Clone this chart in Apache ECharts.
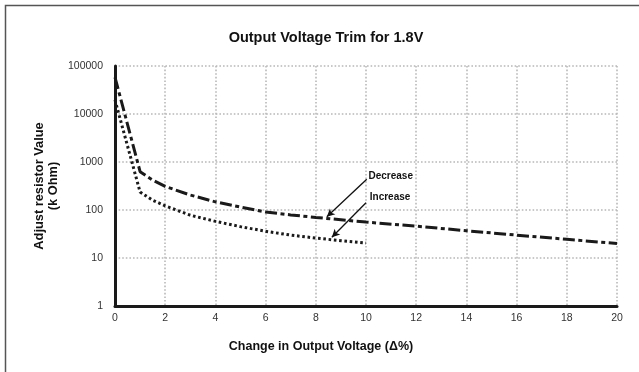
<!DOCTYPE html>
<html>
<head>
<meta charset="utf-8">
<title>Output Voltage Trim for 1.8V</title>
<script src="https://cdn.jsdelivr.net/npm/echarts@6/dist/echarts.min.js"></script>
<style>
  html, body { margin: 0; padding: 0; background: #fff; }
  #chart { width: 639px; height: 372px; }
</style>
</head>
<body>
<div id="chart"></div>
<script>
// Change in output voltage (%) and adjust-resistor values (k Ohm)
const decreaseX = [0, 1, 1.5, 2, 3, 4, 5, 6, 7, 8, 10, 12, 14, 16, 18, 20];
const decreaseR = [58000, 630, 420, 310, 205, 148, 115, 91, 79, 70, 56, 46, 37, 30, 24.5, 20];
const increaseX = [0, 1, 1.5, 2, 3, 4, 5, 6, 7, 8, 9, 10];
const increaseR = [19600, 236, 160, 122, 78, 58, 45, 36, 30, 26, 23, 20.5];

// Callout arrows: [tail, tip] in data coordinates, plus label anchors
const decreaseArrow = [[10.03, 437], [8.44, 72]];
const increaseArrow = [[10.0, 142], [8.64, 27]];
const decreaseLabelAt = [10.1, 494];
const increaseLabelAt = [10.15, 184];

const FONT = '"Liberation Sans", Arial, Helvetica, sans-serif';

const pairs = (xs, ys) => xs.map((x, i) => [x, ys[i]]);

const chart = echarts.init(document.getElementById('chart'), null, { renderer: 'canvas' });

const gridLine = { show: true, lineStyle: { color: '#b8b8b8', width: 1.6, type: [1.6, 2] } };
const arrowLine = (seg) => [{ coord: seg[0] }, { coord: seg[1] }];

chart.setOption({
  animation: false,
  backgroundColor: '#ffffff',
  title: {
    text: 'Output Voltage Trim for 1.8V',
    left: 321,
    top: 25,
    textAlign: 'center',
    textStyle: { fontFamily: FONT, fontSize: 14.5, fontWeight: 'bold', color: '#111' }
  },
  grid: { left: 115, right: 22, top: 66, bottom: 66, containLabel: false },
  xAxis: {
    type: 'value',
    min: 0, max: 20, interval: 2,
    name: 'Change in Output Voltage (\u0394%)',
    nameLocation: 'middle',
    nameGap: 34,
    nameMoveOverlap: false,
    nameTextStyle: { fontFamily: FONT, fontSize: 12.5, fontWeight: 'bold', color: '#111', padding: [0, 90, 0, 0] },
    axisLine: { show: true, onZero: false, lineStyle: { color: '#1a1a1a', width: 3 } },
    axisTick: { show: false },
    axisLabel: { margin: 7, fontFamily: FONT, fontSize: 10.5, color: '#333' },
    splitLine: gridLine
  },
  yAxis: {
    type: 'log',
    logBase: 10,
    min: 1, max: 100000,
    name: 'Adjust resistor Value\n(k Ohm)',
    nameLocation: 'middle',
    nameGap: 54,
    nameMoveOverlap: false,
    nameTextStyle: { fontFamily: FONT, fontSize: 12.8, fontWeight: 'bold', color: '#111', lineHeight: 14.5, align: 'center' },
    axisLine: { show: true, lineStyle: { color: '#1a1a1a', width: 3 } },
    axisTick: { show: false },
    axisLabel: { margin: 12, fontFamily: FONT, fontSize: 10.5, color: '#333',
      formatter: (v) => String(Math.round(v)) },
    splitLine: gridLine,
    minorSplitLine: { show: false }
  },
  series: [
    {
      name: 'Decrease',
      type: 'line',
      data: pairs(decreaseX, decreaseR),
      showSymbol: false,
      symbol: 'none',
      smooth: false,
      lineStyle: { color: '#1a1a1a', width: 3, type: [12, 3.5, 4, 3.5], cap: 'butt' },
      z: 3,
      markLine: {
        silent: true,
        symbol: ['none', 'arrow'],
        symbolSize: [6, 8],
        label: { show: false },
        lineStyle: { color: '#111', width: 1.3, type: 'solid' },
        data: [arrowLine(decreaseArrow), arrowLine(increaseArrow)]
      }
    },
    {
      name: 'Increase',
      type: 'line',
      data: pairs(increaseX, increaseR),
      showSymbol: false,
      symbol: 'none',
      smooth: false,
      lineStyle: { color: '#1a1a1a', width: 3, type: [2.6, 2.7], cap: 'butt' },
      z: 3
    }
  ]
});

// Series captions next to the callout arrows, plus the outer frame
const dp = chart.convertToPixel({ gridIndex: 0 }, decreaseLabelAt);
const ip = chart.convertToPixel({ gridIndex: 0 }, increaseLabelAt);
const captionStyle = (txt) => ({ text: txt, fontFamily: FONT, fontSize: 10, fontWeight: 'bold', fill: '#111', textVerticalAlign: 'middle', textAlign: 'left' });

chart.setOption({
  graphic: [
    { type: 'rect', silent: true, z: 0,
      shape: { x: 5.5, y: 5.5, width: 660, height: 400 },
      style: { fill: 'none', stroke: '#555', lineWidth: 1.5 } },
    { type: 'text', x: dp[0], y: dp[1], style: captionStyle('Decrease'), z: 10 },
    { type: 'text', x: ip[0], y: ip[1], style: captionStyle('Increase'), z: 10 }
  ]
});
</script>
</body>
</html>
